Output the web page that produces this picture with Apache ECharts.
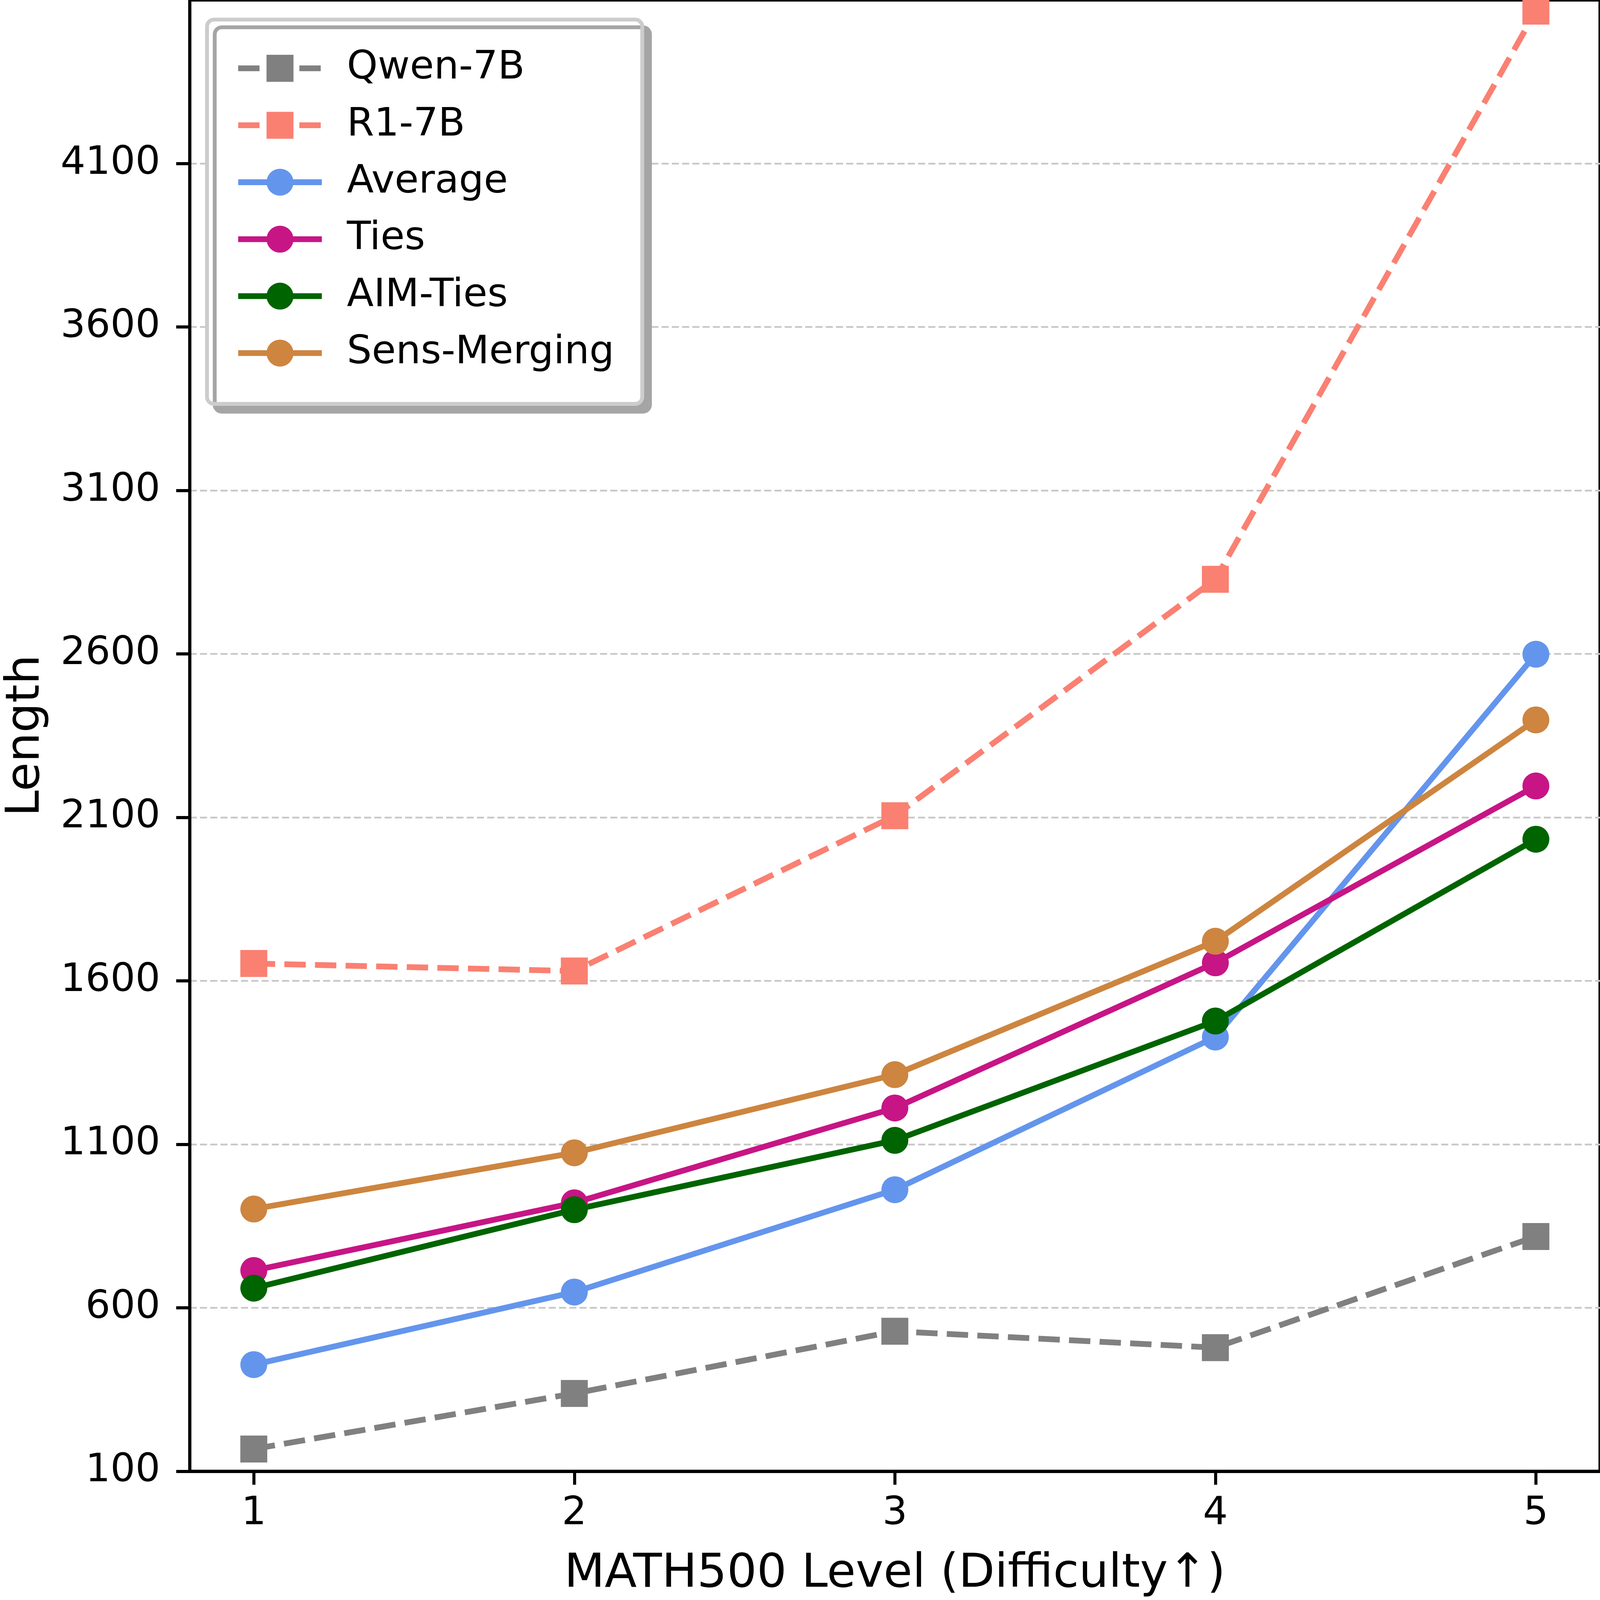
<!DOCTYPE html>
<html>
<head>
<meta charset="utf-8">
<script src="https://cdn.jsdelivr.net/npm/echarts@6/dist/echarts.min.js"></script>
<style>
html,body{margin:0;padding:0;background:#ffffff;overflow:hidden;}
#chart{position:absolute;left:0;top:0;}
</style>
</head>
<body>
<div id="chart"></div>
<script>
// ---- data ----
const levels = [1, 2, 3, 4, 5];
const yTickValues = [100, 600, 1100, 1600, 2100, 2600, 3100, 3600, 4100];
const qwen7B = [168, 338, 528, 478, 818];
const r17B = [1653, 1630, 2105, 2828, 4566];
const average = [426, 648, 961, 1428, 2599];
const ties = [714, 921, 1211, 1655, 2196];
const aimTies = [660, 900, 1112, 1477, 2033];
const sensMerging = [902, 1074, 1313, 1721, 2398];
const seriesNames = ['Qwen-7B', 'R1-7B', 'Average', 'Ties', 'AIM-Ties', 'Sens-Merging'];
const xAxisTitle = 'MATH500 Level (Difficulty\u2191)';
const yAxisTitle = 'Length';

// ---- layout scaling (design space 4570 x 4563) ----
const W = window.innerWidth || 4570;
const H = window.innerHeight || 4563;
const sx = W / 4570, sy = H / 4563, s = Math.min(sx, sy);
const X = v => v * sx, Y = v => v * sy, S = v => v * s;

const el = document.getElementById('chart');
el.style.width = W + 'px';
el.style.height = H + 'px';

const FONT = 'DejaVu Sans';
const LW = S(16.5);
const DASH = [S(61), S(26.4)];
const MS = S(77);
const SPINE = S(8.7);

function makeSeries(name, values, color, symbol, dashed) {
  return {
    name: name,
    type: 'line',
    data: levels.map((x, i) => [x, values[i]]),
    symbol: symbol,
    symbolSize: MS,
    showSymbol: true,
    clip: true,
    lineStyle: { color: color, width: LW, type: dashed ? DASH : 'solid', cap: 'butt', join: 'round' },
    itemStyle: { color: color, borderWidth: 0, opacity: 1 },
    emphasis: { disabled: true },
    animation: false
  };
}

const chart = echarts.init(el, null, { renderer: 'canvas', width: W, height: H });

const option = {
  animation: false,
  backgroundColor: '#ffffff',
  textStyle: { fontFamily: FONT },
  grid: {
    left: X(533), right: 0, top: 0, bottom: Y(358.5),
    show: true, borderColor: '#000000', borderWidth: SPINE, backgroundColor: 'transparent'
  },
  xAxis: {
    type: 'value',
    z: 5,
    min: 0.8, max: 5.2,
    name: xAxisTitle,
    nameLocation: 'middle',
    nameGap: Y(228),
    nameTextStyle: { fontFamily: FONT, fontSize: S(134), color: '#000000' },
    axisLine: { show: true, onZero: false, lineStyle: { color: '#000000', width: SPINE } },
    axisTick: { show: true, customValues: levels, length: Y(38.5), lineStyle: { color: '#000000', width: SPINE } },
    axisLabel: { show: true, customValues: levels, formatter: v => String(v), fontFamily: FONT, fontSize: S(112), color: '#000000', margin: Y(66) },
    splitLine: { show: false }
  },
  yAxis: {
    type: 'value',
    min: 100, max: 4600,
    name: yAxisTitle,
    nameLocation: 'middle',
    nameGap: X(399),
    nameTextStyle: { fontFamily: FONT, fontSize: S(134), color: '#000000' },
    axisLine: { show: true, onZero: false, lineStyle: { color: '#000000', width: SPINE } },
    axisTick: { show: true, customValues: yTickValues, length: X(38.5), lineStyle: { color: '#000000', width: SPINE } },
    axisLabel: { show: true, customValues: yTickValues, formatter: v => String(v), fontFamily: FONT, fontSize: S(112), color: '#000000', margin: X(84) },
    splitLine: { show: true, lineStyle: { color: '#c8c8c8', width: S(5), type: [S(20.3), S(9)] } }
  },
  legend: {
    show: true,
    orient: 'vertical',
    left: X(591.3),
    top: Y(55.9),
    padding: [Y(83), X(80), Y(89), X(80.7)],
    itemWidth: X(239),
    itemHeight: S(96.25),
    itemGap: Y(50.6),
    backgroundColor: '#ffffff',
    borderColor: '#cccccc',
    borderWidth: S(11),
    borderRadius: S(20),
    shadowBlur: 0,
    shadowColor: '#a5a5a5',
    shadowOffsetX: X(22),
    shadowOffsetY: Y(22),
    selectedMode: false,
    lineStyle: { width: LW },
    textStyle: { fontFamily: FONT, fontSize: S(112), color: '#000000', lineHeight: S(112), padding: [0, 0, 0, X(66)] },
    data: seriesNames
  },
  series: [
    makeSeries(seriesNames[0], qwen7B, '#808080', 'rect', true),
    makeSeries(seriesNames[1], r17B, '#fa8072', 'rect', true),
    makeSeries(seriesNames[2], average, '#6495ed', 'circle', false),
    makeSeries(seriesNames[3], ties, '#c71585', 'circle', false),
    makeSeries(seriesNames[4], aimTies, '#006400', 'circle', false),
    makeSeries(seriesNames[5], sensMerging, '#cd853f', 'circle', false)
  ]
};
chart.setOption(option);
</script>
</body>
</html>
